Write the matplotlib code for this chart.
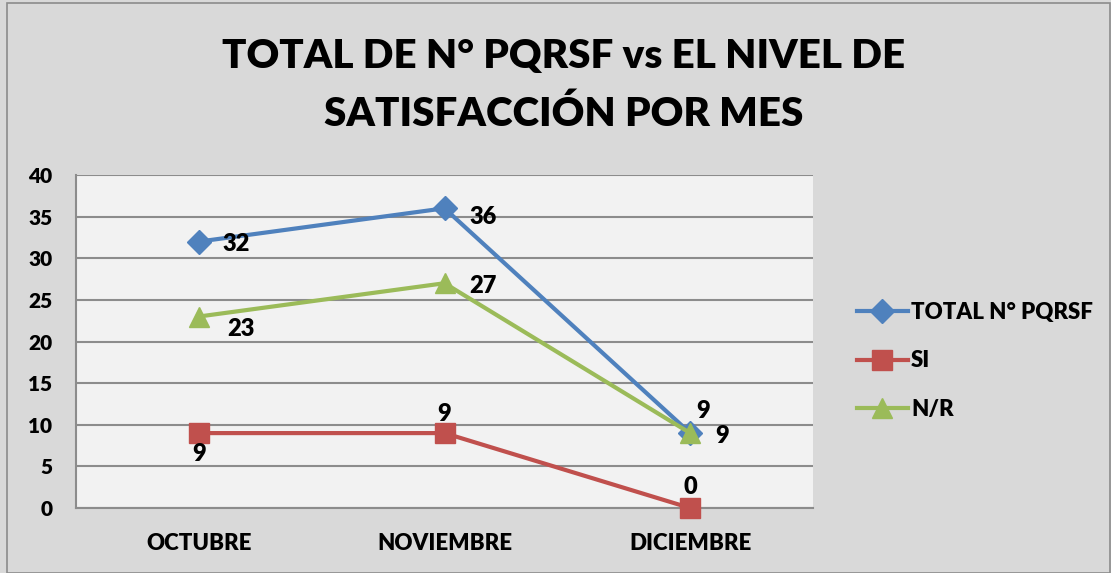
import matplotlib.pyplot as plt
from matplotlib.patches import Rectangle

plt.rcParams['font.family'] = ['Lato', 'DejaVu Sans']

months = ["OCTUBRE", "NOVIEMBRE", "DICIEMBRE"]
total_pqrsf = [32, 36, 9]
si = [9, 9, 0]
nr = [23, 27, 9]
yticks = [0, 5, 10, 15, 20, 25, 30, 35, 40]

fig = plt.figure(figsize=(11.11, 5.73), dpi=100)
fig.patch.set_facecolor("#D9D9D9")
# marco exterior del grafico
fig.patches.append(Rectangle((0.006, 0.0), 0.993, 0.995, transform=fig.transFigure,
                             fill=False, ec="#8C8C8C", lw=1.2))

ax = fig.add_axes([0.0684, 0.1134, 0.6634, 0.5812])
ax.set_facecolor("#F2F2F2")
x = list(range(len(months)))

ax.plot(x, total_pqrsf, color="#4F81BD", lw=3, marker="D", ms=12,
        label="TOTAL N° PQRSF", zorder=3, clip_on=False)
ax.plot(x, si, color="#C0504D", lw=3, marker="s", ms=14,
        label="SI", zorder=3, clip_on=False)
ax.plot(x, nr, color="#9BBB59", lw=3, marker="^", ms=15,
        label="N/R", zorder=4, clip_on=False)

ax.set_xlim(-0.5, 2.5)
ax.set_ylim(0, 40)
ax.set_yticks(yticks)
ax.set_xticks(x)
ax.set_xticklabels(months, fontsize=16, fontweight="heavy")
ax.set_yticklabels([str(v) for v in yticks], fontsize=15, fontweight="heavy")
ax.tick_params(length=0)
ax.tick_params(axis="y", pad=17)
ax.tick_params(axis="x", pad=18)
ax.grid(axis="y", color="#8C8C8C", lw=1.5)
ax.set_axisbelow(True)
for s in ["right", "top"]:
    ax.spines[s].set_visible(False)
for s in ["left", "bottom"]:
    ax.spines[s].set_color("#8C8C8C")
    ax.spines[s].set_linewidth(1.5)

# etiquetas de datos
lbl = dict(fontsize=17, fontweight="heavy", ha="center", va="center",
           textcoords="offset points")
offs_total = [(27, -2), (28, -6), (23, -2)]
offs_si = [(0, -15), (0, 14), (0, 15)]
offs_nr = [(30, -9), (28, -2), (9, 16)]
for i in x:
    ax.annotate(str(total_pqrsf[i]), (i, total_pqrsf[i]), xytext=offs_total[i], **lbl)
    ax.annotate(str(si[i]), (i, si[i]), xytext=offs_si[i], **lbl)
    ax.annotate(str(nr[i]), (i, nr[i]), xytext=offs_nr[i], **lbl)

fig.text(0.507, 0.851, "TOTAL DE N° PQRSF vs EL NIVEL DE\nSATISFACCIÓN POR MES",
         ha="center", va="center", fontsize=29, fontweight="heavy",
         linespacing=1.68)

leg = fig.legend(loc="center left", bbox_to_anchor=(0.753, 0.37), frameon=False,
                 prop=dict(size=16, weight="heavy"), handlelength=2.3,
                 handletextpad=0.15, labelspacing=1.25)

fig.savefig("out.png", dpi=100, facecolor=fig.get_facecolor())
